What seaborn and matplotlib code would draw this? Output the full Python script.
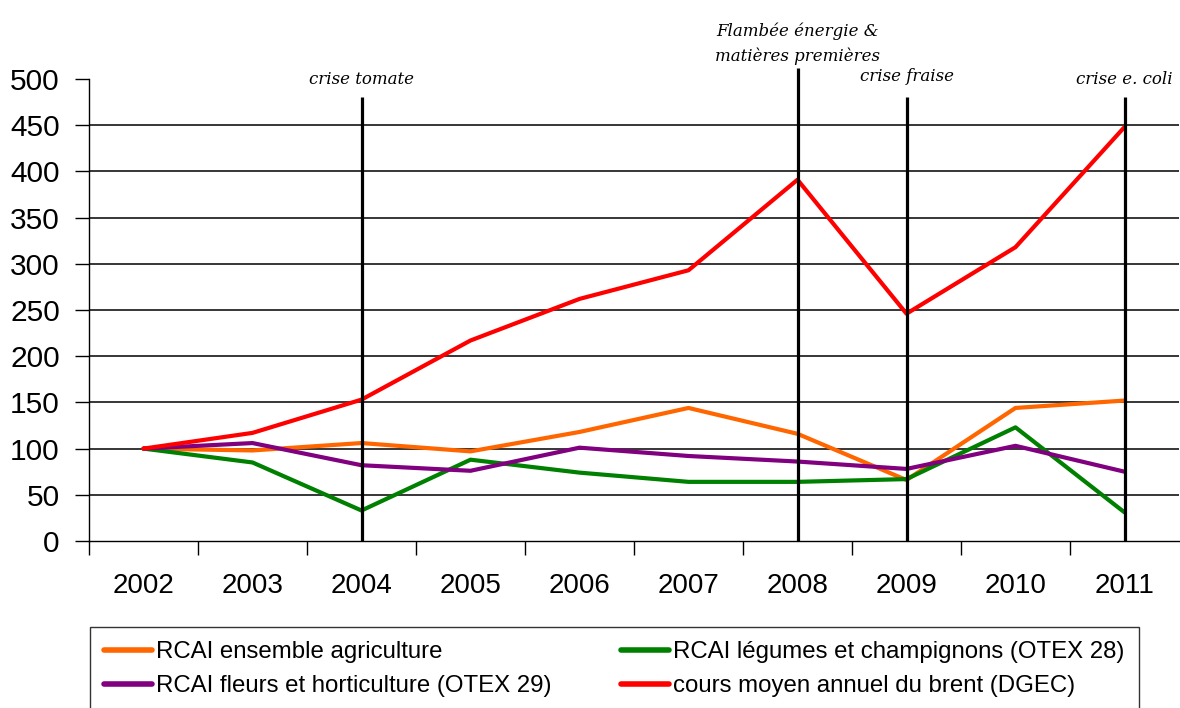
import pandas as pd
import matplotlib.pyplot as plt
import seaborn as sns

# Données (base 100 en 2002)
annees = [2002, 2003, 2004, 2005, 2006, 2007, 2008, 2009, 2010, 2011]
ensemble = [100, 98, 106, 97, 118, 144, 116, 66, 144, 152]
legumes = [100, 85, 33, 88, 74, 64, 64, 67, 123, 31]
fleurs = [100, 106, 82, 76, 101, 92, 86, 78, 103, 75]
brent = [100, 117, 153, 217, 262, 293, 391, 246, 318, 448]

series = {
    "RCAI ensemble agriculture": ensemble,
    "RCAI légumes et champignons (OTEX 28)": legumes,
    "RCAI fleurs et horticulture (OTEX 29)": fleurs,
    "cours moyen annuel du brent (DGEC)": brent,
}
couleurs = ["#FF6600", "#008000", "#800080", "#FF0000"]

# Événements marqués par un trait vertical
evt_annees = [2004, 2008, 2009, 2011]
evt_textes = ["crise tomate", "Flambée énergie &\nmatières premières", "crise fraise", "crise e. coli"]
evt_hauts = [480, 512, 480, 480]

df = pd.DataFrame([
    {"annee": a, "serie": nom, "valeur": v}
    for nom, vals in series.items()
    for a, v in zip(annees, vals)
])

sns.set_style("white")
plt.rcParams["font.family"] = ["Liberation Sans", "DejaVu Sans"]
plt.rcParams["text.color"] = "black"
plt.rcParams["xtick.color"] = "black"
plt.rcParams["ytick.color"] = "black"

fig = plt.figure(figsize=(11.8, 7.08), dpi=100)
ax = fig.add_axes([89 / 1180, 1 - 541 / 708, 1090 / 1180, (541 - 79) / 708])

sns.lineplot(data=df, x="annee", y="valeur", hue="serie", palette=couleurs,
             linewidth=3, ax=ax, legend=True, zorder=2)

# traits verticaux + libellés
for a, h in zip(evt_annees, evt_hauts):
    ax.plot([a, a], [0, h], color="black", lw=2.3, clip_on=False, zorder=3,
            solid_capstyle="butt")
txt = dict(ha="center", va="center", style="italic", family="DejaVu Serif",
           fontsize=12, color="black")
ax.text(2004, 500, evt_textes[0], **txt)
ax.text(2008, 538, evt_textes[1], linespacing=1.6, **txt)
ax.text(2009, 503, evt_textes[2], **txt)
ax.text(2011, 500, evt_textes[3], **txt)

ax.set_xlim(2001.5, 2011.5)
ax.set_ylim(0, 500)
ax.set_yticks(range(0, 501, 50))
ax.set_xticks([a - 0.5 for a in annees])
ax.set_xticklabels([])
ax.set_xticks(annees, minor=True)
ax.set_xticklabels([str(a) for a in annees], minor=True)
ax.tick_params(axis="x", which="major", bottom=True, direction="out", length=10,
               width=1, color="black")
ax.tick_params(axis="x", which="minor", bottom=True, length=0, pad=23, labelsize=20)
ax.tick_params(axis="y", left=True, direction="out", length=10, width=1, color="black",
               pad=11, labelsize=21.5)
ax.set_xlabel("")
ax.set_ylabel("")

for v in range(50, 500, 50):
    ax.axhline(v, color="black", lw=1.1, zorder=1)

sns.despine(ax=ax, top=True, right=True)
ax.spines["left"].set_color("black")
ax.spines["bottom"].set_color("black")
ax.spines["left"].set_linewidth(1)
ax.spines["bottom"].set_linewidth(1)

handles, labels = ax.get_legend_handles_labels()
ax.get_legend().remove()
ordre = [0, 2, 1, 3]
leg = fig.legend([handles[i] for i in ordre], [labels[i] for i in ordre],
                 loc="upper left", bbox_to_anchor=(90 / 1180, 1 - 627 / 708),
                 ncol=2, fontsize=17.3, frameon=True, fancybox=False,
                 edgecolor="black", borderpad=0.6, handlelength=2.0,
                 handletextpad=0.15, columnspacing=2.9, labelspacing=0.5,
                 borderaxespad=0)
leg.get_frame().set_linewidth(1)
for l in leg.get_lines():
    l.set_linewidth(4)

plt.savefig("out.png", dpi=100)
